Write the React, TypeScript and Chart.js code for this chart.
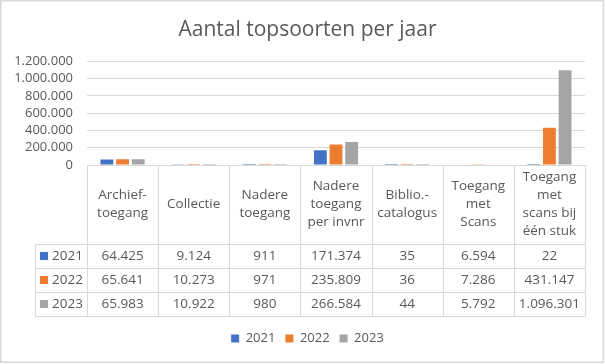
import React, { useEffect, useRef } from "react";
import { Chart, registerables } from "chart.js";

Chart.register(...registerables);

const title = "Aantal topsoorten per jaar";
const categories: string[][] = [
  ["Archief-", "toegang"],
  ["Collectie"],
  ["Nadere", "toegang"],
  ["Nadere", "toegang", "per invnr"],
  ["Biblio.-", "catalogus"],
  ["Toegang", "met", "Scans"],
  ["Toegang", "met", "scans bij", "één stuk"],
];
const years = ["2021", "2022", "2023"];
const values2021 = [64425, 9124, 911, 171374, 35, 6594, 22];
const values2022 = [65641, 10273, 971, 235809, 36, 7286, 431147];
const values2023 = [65983, 10922, 980, 266584, 44, 5792, 1096301];
const seriesValues = [values2021, values2022, values2023];
const colors = ["#4472C4", "#ED7D31", "#A5A5A5"];
const yMax = 1200000;
const yStep = 200000;

const FONT = "'Open Sans', sans-serif";
const TEXT = "#595959";
const LINE = "#d9d9d9";

const fmt = (n: number) => String(n).replace(/\B(?=(\d{3})+(?!\d))/g, ".");

const tablePlugin = {
  id: "dataTable",
  afterDraw(chart: any) {
    const { ctx, chartArea } = chart;
    const n = categories.length;
    const left = chartArea.left;
    const right = chartArea.right;
    const w = (right - left) / n;
    const top = chartArea.bottom;
    const headerH = 79;
    const rowH = 24;
    const rowsTop = top + headerH;
    const bottom = rowsTop + rowH * years.length;
    const tableLeft = 35;
    const px = (v: number) => Math.round(v) + 0.5;

    ctx.save();
    ctx.strokeStyle = LINE;
    ctx.lineWidth = 1;
    ctx.beginPath();
    ctx.moveTo(left, px(top));
    ctx.lineTo(right, px(top));
    for (let r = 0; r <= years.length; r++) {
      const y = px(rowsTop + r * rowH);
      ctx.moveTo(tableLeft, y);
      ctx.lineTo(right, y);
    }
    for (let i = 0; i <= n; i++) {
      const x = px(left + i * w);
      ctx.moveTo(x, top);
      ctx.lineTo(x, bottom);
    }
    ctx.moveTo(px(tableLeft), rowsTop);
    ctx.lineTo(px(tableLeft), bottom);
    ctx.stroke();

    ctx.fillStyle = TEXT;
    ctx.font = `13.5px ${FONT}`;
    ctx.textAlign = "center";
    ctx.textBaseline = "middle";
    const lh = 18;
    const headerMid = top + headerH / 2;
    categories.forEach((lines, i) => {
      const cx = left + (i + 0.5) * w;
      const y0 = headerMid - ((lines.length - 1) * lh) / 2;
      lines.forEach((t, k) => ctx.fillText(t, cx, y0 + k * lh));
    });

    years.forEach((yr, r) => {
      const cy = rowsTop + (r + 0.5) * rowH;
      ctx.fillStyle = colors[r];
      ctx.fillRect(40, Math.round(cy - 4), 8, 8);
      ctx.fillStyle = TEXT;
      ctx.textAlign = "left";
      ctx.fillText(yr, 52, cy);
      ctx.textAlign = "center";
      seriesValues[r].forEach((v, i) => {
        ctx.fillText(fmt(v), left + (i + 0.5) * w, cy);
      });
    });

    ctx.strokeStyle = LINE;
    ctx.lineWidth = 1.5;
    ctx.strokeRect(0.75, 0.75, 602.5, 361.5);
    ctx.restore();
  },
};

export default function App() {
  const ref = useRef<HTMLCanvasElement | null>(null);
  useEffect(() => {
    if (!ref.current) return;
    const chart = new Chart(ref.current, {
      type: "bar",
      data: {
        labels: categories.map((c) => c.join(" ")),
        datasets: years.map((y, i) => ({
          label: y,
          data: seriesValues[i],
          backgroundColor: colors[i],
          categoryPercentage: 0.66,
          barPercentage: 0.82,
          inflateAmount: 0,
        })),
      },
      options: {
        animation: false,
        responsive: false,
        maintainAspectRatio: false,
        layout: { padding: { left: 10, right: 0, top: 0, bottom: 9 } },
        plugins: {
          title: {
            display: true,
            text: title,
            color: TEXT,
            font: { family: FONT, size: 21, weight: "normal" },
            padding: { top: 17, bottom: 19 },
          },
          legend: {
            position: "bottom",
            labels: {
              boxWidth: 8,
              boxHeight: 8,
              color: TEXT,
              font: { family: FONT, size: 13 },
              padding: 10,
            },
          },
          tooltip: { enabled: false },
        },
        scales: {
          x: {
            ticks: { display: false },
            grid: { display: false },
            border: { display: false },
            afterFit: (s: any) => {
              s.height = 157;
            },
          },
          y: {
            min: 0,
            max: yMax,
            ticks: {
              stepSize: yStep,
              autoSkip: false,
              color: TEXT,
              font: { family: FONT, size: 13 },
              padding: 14,
              callback: (v: any) => fmt(Number(v)),
            },
            grid: { color: LINE, drawTicks: false },
            border: { display: false },
            afterFit: (s: any) => {
              s.width = 77;
            },
          },
          yRight: {
            position: "right",
            display: true,
            min: 0,
            max: 1,
            ticks: { display: false },
            grid: { display: false },
            border: { display: false },
            afterFit: (s: any) => {
              s.width = 20;
            },
          },
        },
      },
      plugins: [tablePlugin],
    });
    return () => chart.destroy();
  }, []);
  return (
    <div style={{ position: "fixed", left: 0, top: 0, width: 605, height: 364, background: "#fff" }}>
      <canvas ref={ref} width={605} height={364} style={{ width: 605, height: 364 }} />
    </div>
  );
}
